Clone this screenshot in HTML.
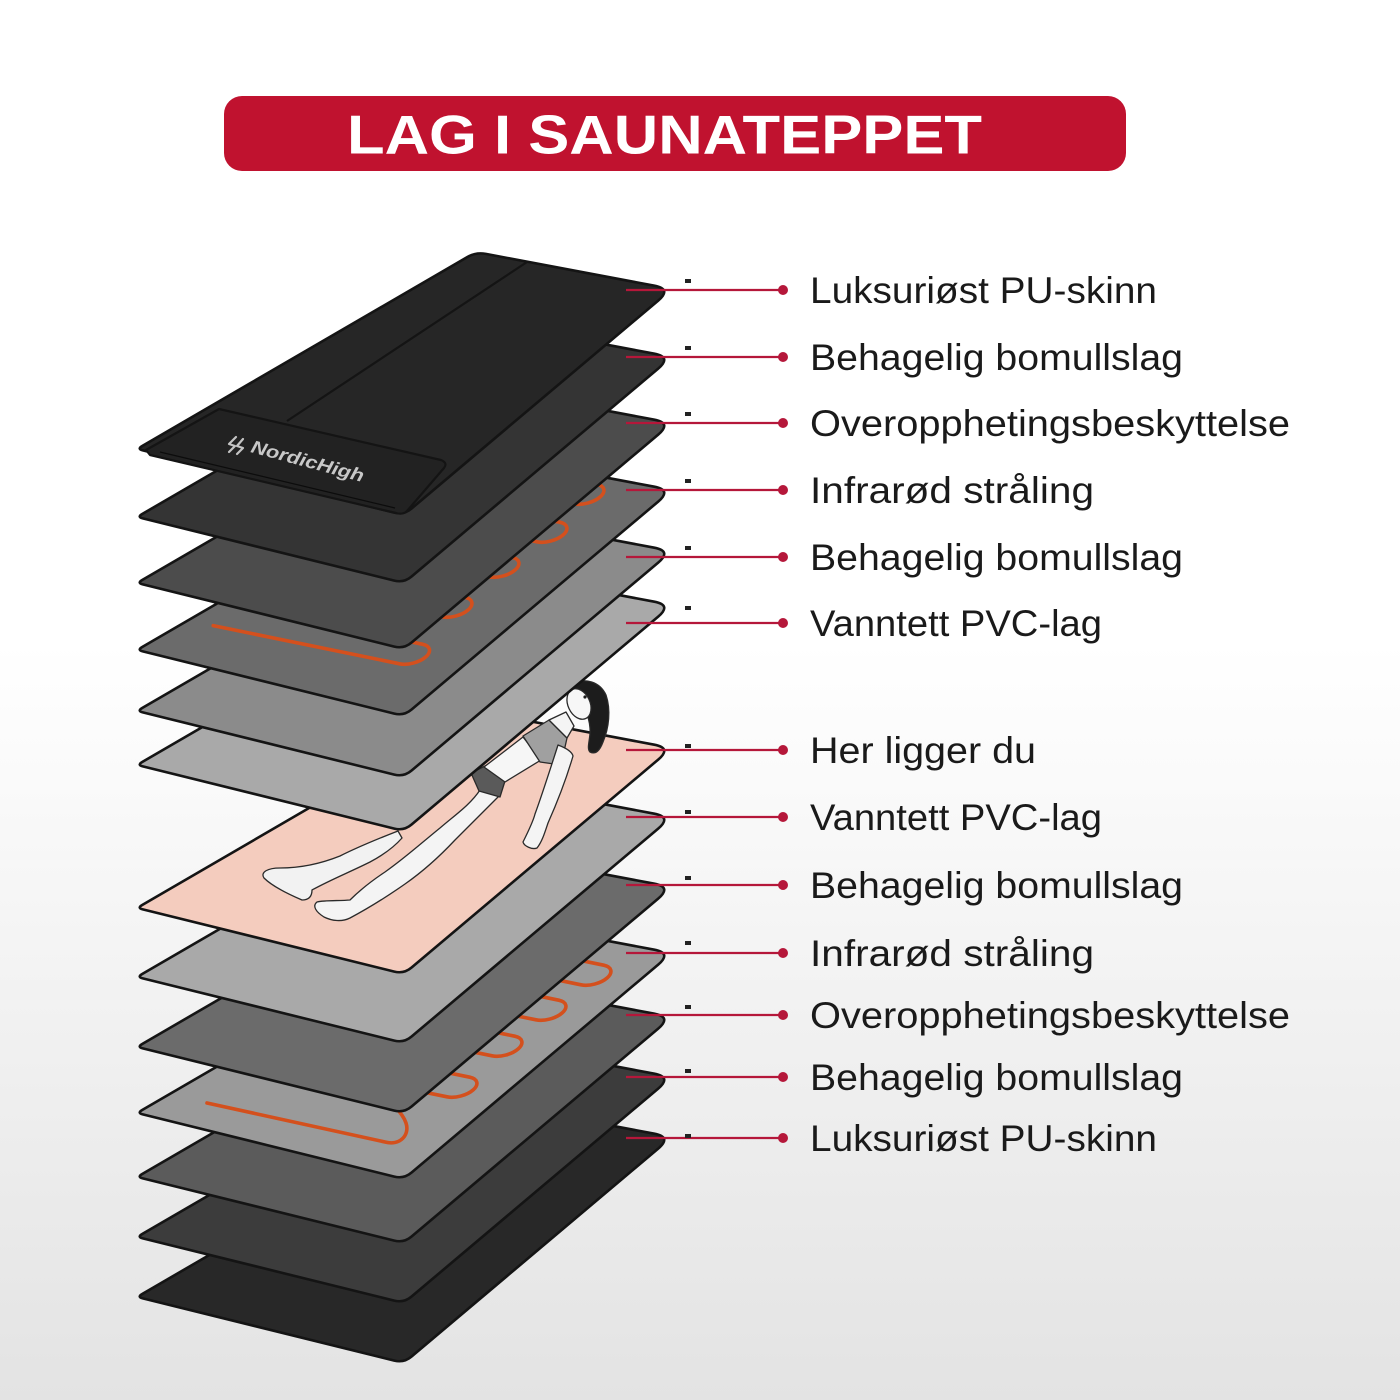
<!DOCTYPE html>
<html>
<head>
<meta charset="utf-8">
<style>
html,body{margin:0;padding:0;width:1400px;height:1400px;overflow:hidden;background:#fff}
svg{display:block}
</style>
</head>
<body>
<svg width="1400" height="1400" viewBox="0 0 1400 1400" xmlns="http://www.w3.org/2000/svg">
<defs>
<linearGradient id="bg" x1="0" y1="0" x2="0" y2="1">
<stop offset="0" stop-color="#ffffff"/>
<stop offset="0.46" stop-color="#ffffff"/>
<stop offset="1" stop-color="#e3e3e3"/>
</linearGradient>
<clipPath id="c4"><path transform="translate(0,650)" d="M142.8,1.4 L394.3,63.6 Q404,66 411.6,59.5 L658.2,-148.4 Q672,-160 654.3,-163.3 L485.8,-195.1 Q476,-197 467.4,-192 L142.2,-3 Q137,0 142.8,1.4 Z"/></clipPath>
<clipPath id="c10"><path transform="translate(0,1113)" d="M142.8,1.4 L394.3,63.6 Q404,66 411.6,59.5 L658.2,-148.4 Q672,-160 654.3,-163.3 L485.8,-195.1 Q476,-197 467.4,-192 L142.2,-3 Q137,0 142.8,1.4 Z"/></clipPath>
</defs>

<rect x="0" y="0" width="1400" height="1400" fill="url(#bg)"/>

<!-- Title -->
<rect x="224" y="96" width="902" height="75" rx="18" ry="18" fill="#c0122f"/>
<text x="347" y="153.5" font-family="'Liberation Sans', sans-serif" font-weight="bold" font-size="55" fill="#ffffff" textLength="635" lengthAdjust="spacingAndGlyphs">LAG I SAUNATEPPET</text>

<!-- Layers (bottom first) -->
<g stroke="#141414" stroke-width="2.6" stroke-linejoin="round">
<path transform="translate(0,1297)" fill="#282828" d="M142.8,1.4 L394.3,63.6 Q404,66 411.6,59.5 L658.2,-148.4 Q672,-160 654.3,-163.3 L485.8,-195.1 Q476,-197 467.4,-192 L142.2,-3 Q137,0 142.8,1.4 Z"/>
<path transform="translate(0,1237)" fill="#3c3c3c" d="M142.8,1.4 L394.3,63.6 Q404,66 411.6,59.5 L658.2,-148.4 Q672,-160 654.3,-163.3 L485.8,-195.1 Q476,-197 467.4,-192 L142.2,-3 Q137,0 142.8,1.4 Z"/>
<path transform="translate(0,1177)" fill="#5b5b5b" d="M142.8,1.4 L394.3,63.6 Q404,66 411.6,59.5 L658.2,-148.4 Q672,-160 654.3,-163.3 L485.8,-195.1 Q476,-197 467.4,-192 L142.2,-3 Q137,0 142.8,1.4 Z"/>
<path transform="translate(0,1113)" fill="#9a9a9a" d="M142.8,1.4 L394.3,63.6 Q404,66 411.6,59.5 L658.2,-148.4 Q672,-160 654.3,-163.3 L485.8,-195.1 Q476,-197 467.4,-192 L142.2,-3 Q137,0 142.8,1.4 Z"/>
</g>

<!-- bottom wire -->
<g clip-path="url(#c10)" fill="none" stroke="#d4501d" stroke-width="3.6" stroke-linecap="round">
<path d="M207,1103 L385,1142 C400,1146 410,1135 406,1123 C404,1117 400,1112 395,1107"/>
<path vector-effect="non-scaling-stroke" transform="matrix(0.976,0.2,0.757,-0.655,458.4,1087)" d="M-400,-15 L0,-15 A15,15 0 0 1 0,15 L-400,15"/>
<path vector-effect="non-scaling-stroke" transform="matrix(0.976,0.2,0.757,-0.655,503.4,1046)" d="M-400,-15 L0,-15 A15,15 0 0 1 0,15 L-400,15"/>
<path vector-effect="non-scaling-stroke" transform="matrix(0.976,0.2,0.757,-0.655,547.4,1010)" d="M-400,-15 L0,-15 A15,15 0 0 1 0,15 L-400,15"/>
<path vector-effect="non-scaling-stroke" transform="matrix(0.976,0.2,0.757,-0.655,592.4,975)" d="M-400,-15 L0,-15 A15,15 0 0 1 0,15 L-400,15"/>
</g>

<g stroke="#141414" stroke-width="2.6" stroke-linejoin="round">
<path transform="translate(0,1047)" fill="#6b6b6b" d="M142.8,1.4 L394.3,63.6 Q404,66 411.6,59.5 L658.2,-148.4 Q672,-160 654.3,-163.3 L485.8,-195.1 Q476,-197 467.4,-192 L142.2,-3 Q137,0 142.8,1.4 Z"/>
<path transform="translate(0,977)" fill="#a9a9a9" d="M142.8,1.4 L394.3,63.6 Q404,66 411.6,59.5 L658.2,-148.4 Q672,-160 654.3,-163.3 L485.8,-195.1 Q476,-197 467.4,-192 L142.2,-3 Q137,0 142.8,1.4 Z"/>
<path transform="translate(0,908)" fill="#f4ccbe" d="M142.8,1.4 L394.3,63.6 Q404,66 411.6,59.5 L658.2,-148.4 Q672,-160 654.3,-163.3 L485.8,-195.1 Q476,-197 467.4,-192 L142.2,-3 Q137,0 142.8,1.4 Z"/>
</g>

<!-- Woman -->
<g stroke="#2a2a2a" stroke-width="1.3" stroke-linejoin="round">
<!-- far leg -->
<path fill="#f2f2f2" d="M398,831 C380,838 360,846 340,856 C320,864 300,868 280,868 C268,868 260,872 264,878 C272,886 288,894 302,900 C310,900 312,895 312,890 C330,880 350,872 370,862 C385,854 395,846 402,838 Z"/>
<!-- near leg -->
<path fill="#f4f4f4" d="M480,790 C470,805 455,815 440,828 C425,840 405,858 385,872 C370,882 358,892 350,900 C340,901 325,900 317,902 C312,906 316,912 324,917 C332,921 342,922 350,918 C365,910 385,898 405,884 C425,870 440,856 455,840 C470,825 485,810 500,795 Z"/>
<!-- briefs -->
<path fill="#5a5a5a" d="M471,773 L487,765 L505,781 L500,797 L479,791 Z"/>
<!-- belly -->
<path fill="#f6f6f6" d="M484,767 L523,737 L541,760 L505,782 Z"/>
<!-- bra -->
<path fill="#a0a0a0" d="M523,736 L549,720 L567,738 L561,765 L540,762 Z"/>
<!-- arm -->
<path fill="#f4f4f4" d="M558,745 C566,748 572,752 573,756 C566,780 556,805 548,823 C545,832 542,842 537,848 C532,850 524,846 523,842 C528,832 533,822 535,814 C542,795 550,770 558,745 Z"/>
<!-- neck -->
<path fill="#f4f4f4" d="M549,720 L566,712 L574,726 L567,738 Z"/>
<!-- hair -->
<path fill="#1c1c1c" d="M572,684 C585,677 600,682 606,695 C611,710 609,728 603,742 C600,750 596,755 590,752 C586,748 591,738 590,728 C589,716 584,704 574,697 Z"/>
<!-- face -->
<ellipse cx="579" cy="704" rx="11" ry="16" transform="rotate(-25 579 704)" fill="#f7f7f7"/>
<circle cx="585" cy="697" r="1.6" fill="#1c1c1c" stroke="none"/>
</g>

<g stroke="#141414" stroke-width="2.6" stroke-linejoin="round">
<path transform="translate(0,765)" fill="#a9a9a9" d="M142.8,1.4 L394.3,63.6 Q404,66 411.6,59.5 L658.2,-148.4 Q672,-160 654.3,-163.3 L485.8,-195.1 Q476,-197 467.4,-192 L142.2,-3 Q137,0 142.8,1.4 Z"/>
<path transform="translate(0,711)" fill="#8b8b8b" d="M142.8,1.4 L394.3,63.6 Q404,66 411.6,59.5 L658.2,-148.4 Q672,-160 654.3,-163.3 L485.8,-195.1 Q476,-197 467.4,-192 L142.2,-3 Q137,0 142.8,1.4 Z"/>
<path transform="translate(0,650)" fill="#6b6b6b" d="M142.8,1.4 L394.3,63.6 Q404,66 411.6,59.5 L658.2,-148.4 Q672,-160 654.3,-163.3 L485.8,-195.1 Q476,-197 467.4,-192 L142.2,-3 Q137,0 142.8,1.4 Z"/>
</g>

<!-- top wire -->
<g clip-path="url(#c4)" fill="none" stroke="#d4501d" stroke-width="3.6" stroke-linecap="round">
<path vector-effect="non-scaling-stroke" transform="matrix(0.976,0.2,0.757,-0.655,411,654)" d="M-191,-15 L0,-15 A15,15 0 0 1 0,15 L-400,15"/>
<path vector-effect="non-scaling-stroke" transform="matrix(0.976,0.2,0.757,-0.655,453.4,607)" d="M-400,-15 L0,-15 A15,15 0 0 1 0,15 L-400,15"/>
<path vector-effect="non-scaling-stroke" transform="matrix(0.976,0.2,0.757,-0.655,500.4,567)" d="M-400,-15 L0,-15 A15,15 0 0 1 0,15 L-400,15"/>
<path vector-effect="non-scaling-stroke" transform="matrix(0.976,0.2,0.757,-0.655,548.4,532)" d="M-400,-15 L0,-15 A15,15 0 0 1 0,15 L-400,15"/>
<path vector-effect="non-scaling-stroke" transform="matrix(0.976,0.2,0.757,-0.655,585.4,494)" d="M-400,-15 L0,-15 A15,15 0 0 1 0,15 L-400,15"/>
</g>

<g stroke="#141414" stroke-width="2.6" stroke-linejoin="round">
<path transform="translate(0,583)" fill="#4c4c4c" d="M142.8,1.4 L394.3,63.6 Q404,66 411.6,59.5 L658.2,-148.4 Q672,-160 654.3,-163.3 L485.8,-195.1 Q476,-197 467.4,-192 L142.2,-3 Q137,0 142.8,1.4 Z"/>
<path transform="translate(0,517)" fill="#343434" d="M142.8,1.4 L394.3,63.6 Q404,66 411.6,59.5 L658.2,-148.4 Q672,-160 654.3,-163.3 L485.8,-195.1 Q476,-197 467.4,-192 L142.2,-3 Q137,0 142.8,1.4 Z"/>
<path transform="translate(0,449)" fill="#262626" d="M142.8,1.4 L394.3,63.6 Q404,66 411.6,59.5 L658.2,-148.4 Q672,-160 654.3,-163.3 L485.8,-195.1 Q476,-197 467.4,-192 L142.2,-3 Q137,0 142.8,1.4 Z"/>
<!-- seam -->
<path d="M527,262 L287,421" fill="none" stroke-width="2.2"/>
<!-- panel -->
<path fill="#222222" stroke-width="2.2" d="M146,450 L219,409 L441,460 Q448,463 444,468 L407,511 Q403,515 396,513 L150,455 Z"/>
<path d="M160,452 L395,508" fill="none" stroke-width="1.2" stroke="#0c0c0c"/>
</g>

<!-- NordicHigh logo -->
<g fill="none" stroke="#c4c4c4" stroke-width="2.2" stroke-linecap="round" stroke-linejoin="round">
<path d="M236,437 L229,444 L235,446 L229,452"/>
<path d="M243,439 L237,446 L243,448 L237,454"/>
</g>
<text transform="translate(250,452) rotate(15)" x="0" y="0" font-family="'Liberation Sans', sans-serif" font-style="italic" font-weight="bold" font-size="18" fill="#c8c8c8" textLength="116" lengthAdjust="spacingAndGlyphs">NordicHigh</text>

<!-- Labels -->
<g fill="#b5173a" stroke="#b5173a">
<g stroke-width="2.2">
<line x1="626" y1="290" x2="783" y2="290"/>
<line x1="626" y1="357" x2="783" y2="357"/>
<line x1="626" y1="423" x2="783" y2="423"/>
<line x1="626" y1="490" x2="783" y2="490"/>
<line x1="626" y1="557" x2="783" y2="557"/>
<line x1="626" y1="623" x2="783" y2="623"/>
<line x1="626" y1="750" x2="783" y2="750"/>
<line x1="626" y1="817" x2="783" y2="817"/>
<line x1="626" y1="885" x2="783" y2="885"/>
<line x1="626" y1="953" x2="783" y2="953"/>
<line x1="626" y1="1015" x2="783" y2="1015"/>
<line x1="626" y1="1077" x2="783" y2="1077"/>
<line x1="626" y1="1138" x2="783" y2="1138"/>
</g>
<g stroke="none">
<circle cx="783" cy="290" r="5"/>
<circle cx="783" cy="357" r="5"/>
<circle cx="783" cy="423" r="5"/>
<circle cx="783" cy="490" r="5"/>
<circle cx="783" cy="557" r="5"/>
<circle cx="783" cy="623" r="5"/>
<circle cx="783" cy="750" r="5"/>
<circle cx="783" cy="817" r="5"/>
<circle cx="783" cy="885" r="5"/>
<circle cx="783" cy="953" r="5"/>
<circle cx="783" cy="1015" r="5"/>
<circle cx="783" cy="1077" r="5"/>
<circle cx="783" cy="1138" r="5"/>
</g>
</g>

<!-- tiny marks -->
<g fill="#222">
<rect x="685" y="279" width="6" height="4"/>
<rect x="685" y="346" width="6" height="4"/>
<rect x="685" y="412" width="6" height="4"/>
<rect x="685" y="479" width="6" height="4"/>
<rect x="685" y="546" width="6" height="4"/>
<rect x="685" y="606" width="6" height="4"/>
<rect x="685" y="744" width="6" height="4"/>
<rect x="685" y="810" width="6" height="4"/>
<rect x="685" y="876" width="6" height="4"/>
<rect x="685" y="941" width="6" height="4"/>
<rect x="685" y="1005" width="6" height="4"/>
<rect x="685" y="1069" width="6" height="4"/>
<rect x="685" y="1134" width="6" height="4"/>
</g>

<g font-family="'Liberation Sans', 'DejaVu Sans', sans-serif" font-size="37" fill="#1a1a1a">
<text x="810" y="303" textLength="347" lengthAdjust="spacingAndGlyphs">Luksuriøst PU-skinn</text>
<text x="810" y="370" textLength="373" lengthAdjust="spacingAndGlyphs">Behagelig bomullslag</text>
<text x="810" y="436" textLength="480" lengthAdjust="spacingAndGlyphs">Overopphetingsbeskyttelse</text>
<text x="810" y="503" textLength="284" lengthAdjust="spacingAndGlyphs">Infrarød stråling</text>
<text x="810" y="570" textLength="373" lengthAdjust="spacingAndGlyphs">Behagelig bomullslag</text>
<text x="810" y="636" textLength="292" lengthAdjust="spacingAndGlyphs">Vanntett PVC-lag</text>
<text x="810" y="763" textLength="226" lengthAdjust="spacingAndGlyphs">Her ligger du</text>
<text x="810" y="830" textLength="292" lengthAdjust="spacingAndGlyphs">Vanntett PVC-lag</text>
<text x="810" y="898" textLength="373" lengthAdjust="spacingAndGlyphs">Behagelig bomullslag</text>
<text x="810" y="966" textLength="284" lengthAdjust="spacingAndGlyphs">Infrarød stråling</text>
<text x="810" y="1028" textLength="480" lengthAdjust="spacingAndGlyphs">Overopphetingsbeskyttelse</text>
<text x="810" y="1090" textLength="373" lengthAdjust="spacingAndGlyphs">Behagelig bomullslag</text>
<text x="810" y="1151" textLength="347" lengthAdjust="spacingAndGlyphs">Luksuriøst PU-skinn</text>
</g>
</svg>
</body>
</html>
